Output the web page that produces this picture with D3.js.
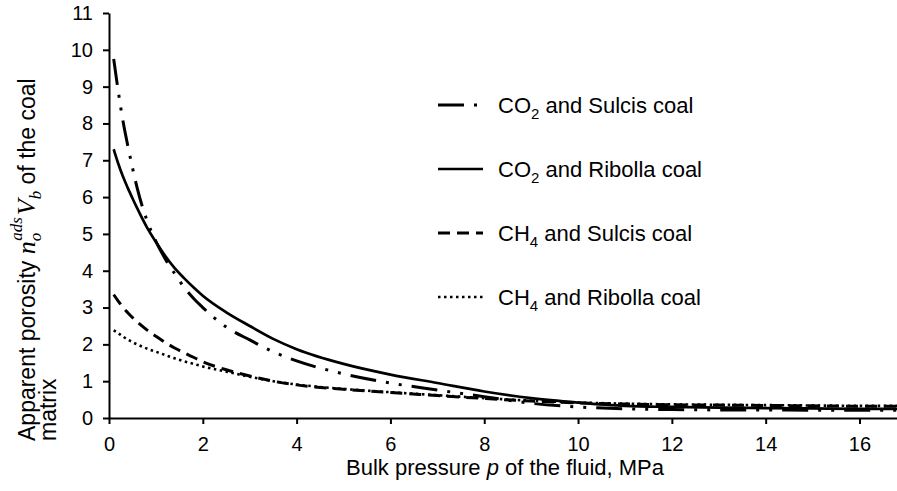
<!DOCTYPE html>
<html>
<head>
<meta charset="utf-8">
<script src="https://cdn.jsdelivr.net/npm/d3@7"></script>
<style>
  body { margin: 0; background: #fff; }
  svg { display: block; font-family: Arial, "Liberation Sans", sans-serif; }
  .axis path, .axis line { stroke: #000; stroke-width: 2; }
  .axis text { font-size: 20px; fill: #000; font-family: Arial, "Liberation Sans", sans-serif; }
  .math { font-family: "Liberation Serif", "DejaVu Serif", serif; font-style: italic; }
</style>
</head>
<body>
<svg id="chart" width="897" height="491"></svg>
<script>
// Bulk pressure p (MPa) at which each curve was read
const pressure = [0.1, 0.2, 0.3, 0.4, 0.5, 0.6, 0.8, 1.0, 1.2, 1.4, 1.6, 1.8, 2.0, 2.5, 3.0,
  3.5, 4.0, 5.0, 6.0, 7.0, 8.0, 9.0, 10, 11, 12, 13, 14, 15, 16, 16.8];

// Apparent porosity values, one array per gas / coal pair
const co2Sulcis = [9.75, 8.85, 8.05, 7.4, 6.8, 6.25, 5.4, 4.8, 4.32, 3.92, 3.55, 3.25, 3.0, 2.47, 2.12,
  1.8, 1.55, 1.2, 0.95, 0.76, 0.58, 0.4, 0.3, 0.25, 0.23, 0.22, 0.22, 0.21, 0.21, 0.21];
const co2Ribolla = [7.3, 6.9, 6.55, 6.25, 5.97, 5.7, 5.2, 4.78, 4.4, 4.07, 3.8, 3.55, 3.32, 2.87, 2.5,
  2.15, 1.87, 1.47, 1.18, 0.95, 0.72, 0.54, 0.42, 0.33, 0.3, 0.28, 0.27, 0.26, 0.25, 0.25];
const ch4Sulcis = [3.35, 3.17, 3.0, 2.86, 2.73, 2.61, 2.4, 2.22, 2.05, 1.9, 1.77, 1.65, 1.53, 1.31, 1.14,
  1.0, 0.9, 0.78, 0.69, 0.61, 0.53, 0.46, 0.41, 0.38, 0.36, 0.35, 0.34, 0.33, 0.32, 0.32];
const ch4Ribolla = [2.38, 2.3, 2.21, 2.13, 2.06, 2.0, 1.89, 1.8, 1.71, 1.62, 1.54, 1.47, 1.4, 1.26, 1.12,
  1.0, 0.91, 0.79, 0.7, 0.62, 0.54, 0.47, 0.42, 0.39, 0.37, 0.36, 0.35, 0.34, 0.33, 0.33];

// Legend text pieces: gas formula, its subscript, the rest
const gasNames = ['CO', 'CO', 'CH', 'CH'];
const gasSubs = ['2', '2', '4', '4'];
const coalNames = [' and Sulcis coal', ' and Ribolla coal', ' and Sulcis coal', ' and Ribolla coal'];

const xTicks = [0, 2, 4, 6, 8, 10, 12, 14, 16];
const yTicks = [0, 1, 2, 3, 4, 5, 6, 7, 8, 9, 10, 11];

// line styles for each series (same order as the legend)
const dashes = ['26,10,3,10,3,10', null, '12,7', '2.5,3.5'];
const widths = [3, 2.7, 3, 2.6];

const series = [co2Sulcis, co2Ribolla, ch4Sulcis, ch4Ribolla].map((vals, i) => ({
  gas: gasNames[i], sub: gasSubs[i], coal: coalNames[i],
  dash: dashes[i], width: widths[i],
  points: pressure.map((p, j) => ({ p: p, v: vals[j] }))
}));

const svg = d3.select('#chart');
const margin = { left: 109, right: 0, top: 13, bottom: 73 };
const width = 897, height = 491;

const x = d3.scaleLinear().domain([0, 16.8]).range([margin.left, width - margin.right]);
const y = d3.scaleLinear().domain([0, 11]).range([height - margin.bottom, margin.top]);

// Axes
svg.append('g')
    .attr('class', 'axis')
    .attr('transform', `translate(0,${y(0)})`)
  .call(d3.axisBottom(x).tickValues(xTicks).tickSize(6).tickSizeOuter(0).tickPadding(13));

svg.append('g')
    .attr('class', 'axis')
    .attr('transform', `translate(${x(0)},0)`)
  .call(d3.axisLeft(y).tickValues(yTicks).tickSize(6).tickSizeOuter(0).tickPadding(10));

// Curves
const line = d3.line()
    .x(d => x(d.p))
    .y(d => y(d.v))
    .curve(d3.curveMonotoneX);

svg.append('g').selectAll('path')
    .data(series)
  .join('path')
    .attr('d', d => line(d.points))
    .attr('fill', 'none')
    .attr('stroke', '#000')
    .attr('stroke-width', d => d.width)
    .attr('stroke-dasharray', d => d.dash);

// Legend
const legendRows = [105, 169, 233, 297];
const legend = svg.append('g').selectAll('g')
    .data(series)
  .join('g')
    .attr('transform', (d, i) => `translate(438,${legendRows[i]})`);

legend.append('line')
    .attr('x1', 0).attr('x2', 45)
    .attr('stroke', '#000')
    .attr('stroke-width', d => d.width)
    .attr('stroke-dasharray', d => d.dash);

const legendText = legend.append('text')
    .attr('x', 60)
    .attr('dy', '0.35em')
    .style('font-size', '22px');
legendText.append('tspan').text(d => d.gas);
legendText.append('tspan').attr('dy', 6).style('font-size', '15px').text(d => d.sub);
legendText.append('tspan').attr('dy', -6).text(d => d.coal);

// x axis title
const xTitle = svg.append('text')
    .attr('x', 505)
    .attr('y', 475)
    .attr('text-anchor', 'middle')
    .style('font-size', '22px');
xTitle.append('tspan').text('Bulk pressure ');
xTitle.append('tspan').style('font-style', 'italic').text('p');
xTitle.append('tspan').text(' of the fluid, MPa');

// y axis title (two lines, rotated)
const yTitle = svg.append('g')
    .attr('transform', 'translate(35,441) rotate(-90)');
const yLine1 = yTitle.append('text')
    .attr('x', 0).attr('y', 0)
    .style('font-size', '23px');
yLine1.append('tspan').text('Apparent porosity ');
yLine1.append('tspan').attr('class', 'math').style('font-size', '26px').text('n');
yLine1.append('tspan').attr('class', 'math').attr('dy', 6).style('font-size', '17px').text('o');
yLine1.append('tspan').attr('class', 'math').attr('dx', -8).attr('dy', -19).style('font-size', '17px').text('ads');
yLine1.append('tspan').attr('class', 'math').attr('dx', 2).attr('dy', 13).style('font-size', '26px').text('V');
yLine1.append('tspan').attr('class', 'math').attr('dy', 6).style('font-size', '17px').text('b');
yLine1.append('tspan').attr('dy', -6).text('  of the coal');

yTitle.append('text')
    .attr('x', 0).attr('y', 21)
    .style('font-size', '23px')
    .text('matrix');
</script>
</body>
</html>
